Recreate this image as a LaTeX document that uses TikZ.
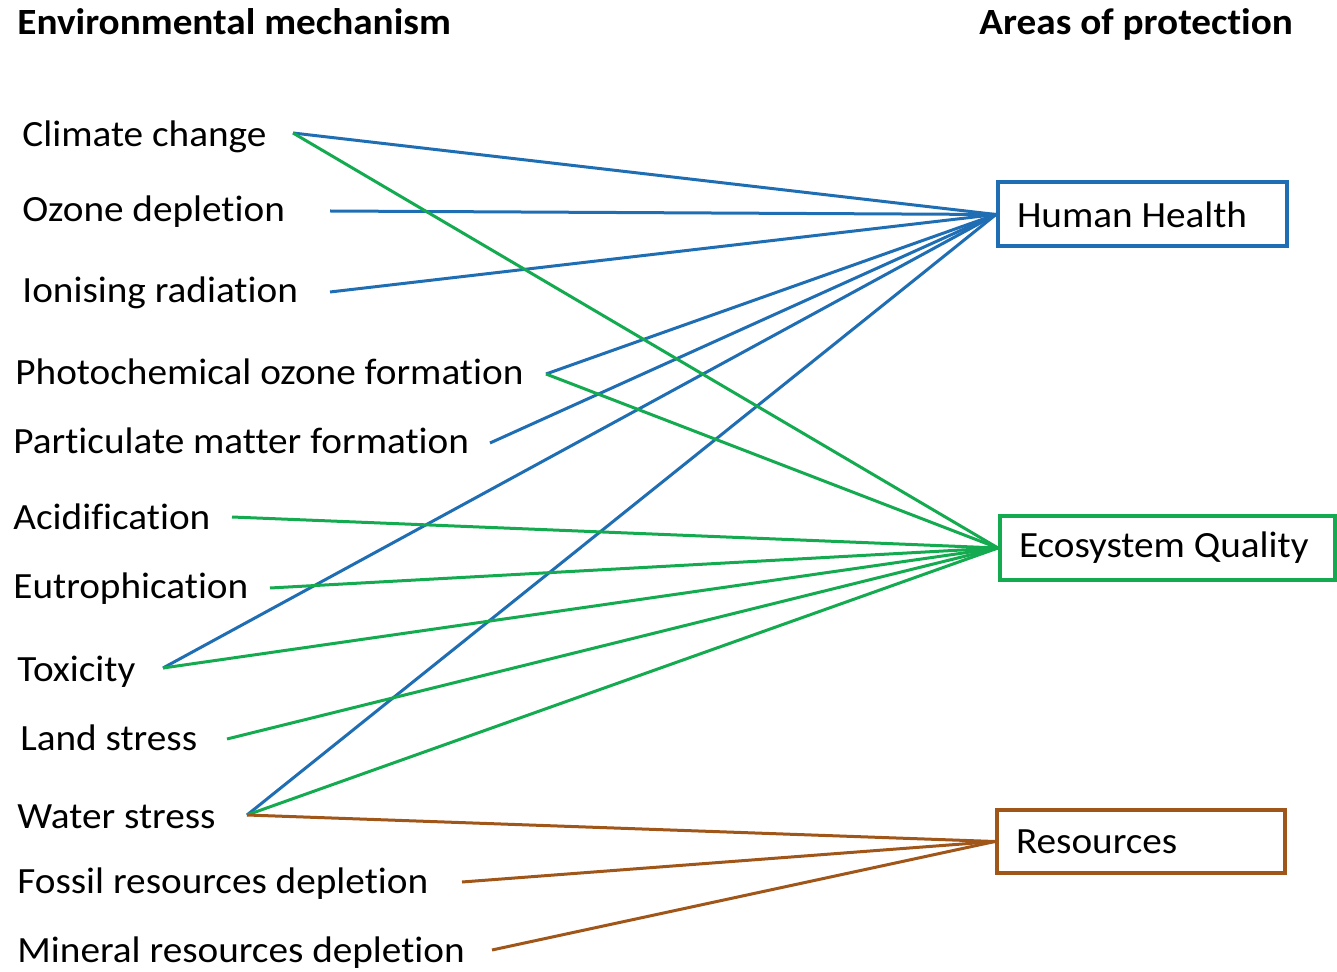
\documentclass[tikz,border=0pt]{standalone}
\usepackage{fontspec}
\setmainfont{Carlito}[FakeStretch=1.06,Ligatures=NoCommon]
\definecolor{hblue}{RGB}{31,110,180}
\definecolor{egreen}{RGB}{20,170,80}
\definecolor{rbrown}{RGB}{160,85,25}
\begin{document}
\begin{tikzpicture}[x=0.5pt,y=-0.5pt,
  lbl/.style={anchor=base west,inner sep=0pt,font=\fontsize{18.5}{22}\selectfont},
  head/.style={anchor=base west,inner sep=0pt,font=\fontsize{18.5}{22}\selectfont\bfseries},
  aop/.style={draw,line width=2pt,fill=white,minimum height=32pt,inner xsep=9.5pt,font=\fontsize{18.5}{22}\selectfont},
  hh/.style={draw=hblue,line width=1.5pt},
  eq/.style={draw=egreen,line width=1.5pt},
  rs/.style={draw=rbrown,line width=1.5pt}]
\useasboundingbox (0,0) rectangle (1337,972);
% headings
\node[head] (h1) at (17,35) {Environmental mechanism};
\node[head] (h2) at (979,35) {Areas of protection};
% labels
\node[lbl] (l1) at (22,147) {Climate change};
\node[lbl] (l2) at (22,222) {Ozone depletion};
\node[lbl] (l3) at (22,303) {Ionising radiation};
\node[lbl] (l4) at (15,385) {Photochemical ozone formation};
\node[lbl] (l5) at (13,453) {Particulate matter formation};
\node[lbl] (l6) at (13,529) {Acidification};
\node[lbl] (l7) at (13,598) {Eutrophication};
\node[lbl] (l8) at (17,681) {Toxicity};
\node[lbl] (l9) at (20,750) {Land stress};
\node[lbl] (l10) at (17,828) {Water stress};
\node[lbl] (l11) at (17,893) {Fossil resources depletion};
\node[lbl] (l12) at (17,962) {Mineral resources depletion};
% line start points
\coordinate (c1) at (293,133);
\coordinate (c2) at (330,211);
\coordinate (c3) at (330,292);
\coordinate (c4) at (546,374);
\coordinate (c5) at (490,443);
\coordinate (c6) at (232,517);
\coordinate (c7) at (270,588);
\coordinate (c8) at (163,668);
\coordinate (c9) at (227,739);
\coordinate (c10) at (247,815);
\coordinate (c11) at (462,882);
\coordinate (c12) at (492,950);
% boxes
\node[aop,draw=hblue] (HH) at (1142.5,214.5) {\makebox[125.5pt][l]{Human Health}};
\node[aop,draw=egreen] (EQ) at (1167.5,548) {\makebox[148.5pt][l]{Ecosystem Quality}};
\node[aop,draw=rbrown,minimum height=31.5pt] (RS) at (1141,841.5) {\makebox[125pt][l]{Resources}};
% connectors
\foreach \c in {c1,c2,c3,c4,c5,c8,c10} \draw[hh] (\c) -- (HH.west);
\foreach \c in {c1,c4,c6,c7,c8,c9,c10} \draw[eq] (\c) -- (EQ.west);
\foreach \c in {c10,c11,c12} \draw[rs] (\c) -- (RS.west);
\end{tikzpicture}
\end{document}
